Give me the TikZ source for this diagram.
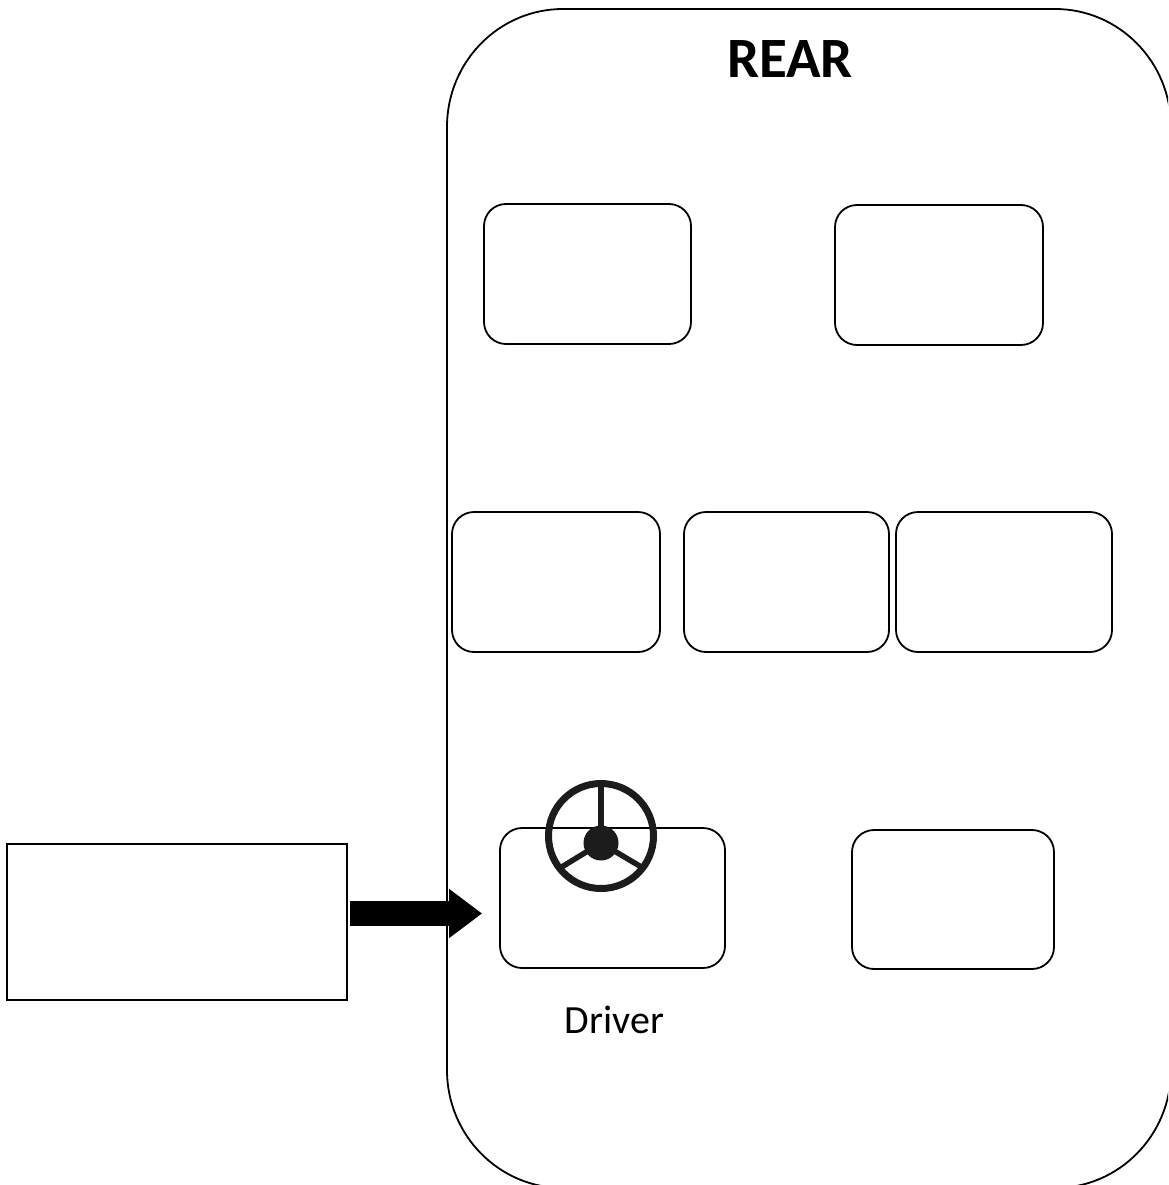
\documentclass[tikz,border=0pt]{standalone}
\usepackage{fontspec}
\setmainfont{Carlito}
\usetikzlibrary{arrows.meta}
\definecolor{wheelc}{HTML}{1C1C1C}
\tikzset{
  seat/.style={draw, line width=1.8pt, rounded corners=22pt, inner sep=0pt, minimum height=140pt},
  outline/.style={draw, line width=1.8pt},
}
\begin{document}
\begin{tikzpicture}[x=1pt, y=-1pt]
\useasboundingbox (0,0) rectangle (1168,1185);
\begin{scope}
\clip (0,0) rectangle (1168,1185);
\draw[outline] (447,127) arc[start angle=180, end angle=270, x radius=116, y radius=118]
  -- (1055,9) arc[start angle=270, end angle=360, x radius=116, y radius=118]
  -- (1171,1070) arc[start angle=0, end angle=90, x radius=116, y radius=118]
  -- (563,1188) arc[start angle=90, end angle=180, x radius=116, y radius=118]
  -- cycle;
\end{scope}
\node[anchor=base, font=\fontsize{57}{64}\selectfont\bfseries] (rear) at (790,78) {REAR};
% seats
\node[seat, minimum width=207pt] (s1) at (587.5,274) {};
\node[seat, minimum width=208pt] (s2) at (939,275) {};
\node[seat, minimum width=208pt] (s3) at (556,582) {};
\node[seat, minimum width=205pt] (s4) at (786.5,582) {};
\node[seat, minimum width=216pt] (s5) at (1004,582) {};
\node[seat, minimum width=225pt] (driver) at (612.5,898) {};
\node[seat, minimum width=202pt, minimum height=139pt] (s7) at (953,899.5) {};
% left box
\node[draw, line width=2.8pt, minimum width=340pt, minimum height=156pt, inner sep=0pt] (lbox) at (177,922) {};
% block arrow
\draw[line width=25pt, -{Triangle[width=47pt,length=33pt]}, shorten <=2pt, shorten >=17pt]
  (lbox.east |- 0,913.5) -- (driver.west |- 0,913.5);
% steering wheel
\node[circle, draw=wheelc, line width=7pt, minimum size=105pt, inner sep=0pt] (wheel) at (601,836) {};
\node[circle, fill=wheelc, minimum size=35pt, inner sep=0pt] (hub) at (601,843) {};
\coordinate (sp1) at (601,786);
\coordinate (sp2) at (560,868);
\coordinate (sp3) at (643,868);
\draw[wheelc, line width=5.5pt] (hub.center) -- (sp1);
\draw[wheelc, line width=5.5pt] (hub.center) -- (sp2);
\draw[wheelc, line width=5.5pt] (hub.center) -- (sp3);
% label
\node[anchor=base, font=\fontsize{40}{48}\selectfont] (drv) at (614.5,1033) {Driver};
\end{tikzpicture}
\end{document}
